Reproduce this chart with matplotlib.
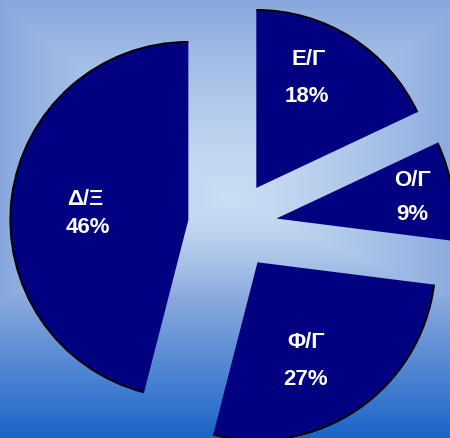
import numpy as np
import matplotlib
matplotlib.use("Agg")
import matplotlib.pyplot as plt
from matplotlib.patches import Arc
from matplotlib.colors import to_rgb

# Data
categories = ["Ε/Γ", "Ο/Γ", "Φ/Γ", "Δ/Ξ"]
shares = [18, 9, 27, 46]
pct_labels = ["18%", "9%", "27%", "46%"]

# Layout / style
explode = [0.25, 0.25, 0.25, 0.25]
wedge_color = "#000080"
# baseline positions (data units) for the name line and the percent line
name_pos = [(0.427, 0.902), (1.014, 0.222), (0.416, -0.688), (-0.829, 0.115)]
pct_pos = [(0.416, 0.694), (1.008, 0.031), (0.413, -0.896), (-0.812, -0.042)]

xlim = (-1.306, 1.222)
ylim = (-1.194, 1.267)

fig = plt.figure(figsize=(4.5, 4.38), dpi=100)
ax = fig.add_axes([0, 0, 1, 1])

# Background: light centre fading to mid blue, then a vertical ramp to vivid blue at the bottom
W, H = 450, 438
yy, xx = np.mgrid[0:H, 0:W].astype(float)
light = np.array(to_rgb("#c9ddf3"))
edge = np.array(to_rgb("#88a8dd"))
bottom = np.array(to_rgb("#1a64c8"))
u = np.abs(xx - 230) / 230.0
v = np.where(yy < 200, (200 - yy) / 200.0, (yy - 200) / 100.0)
s = np.clip(np.maximum(u, v), 0, 1) ** 1.4
img = light[None, None, :] * (1 - s[..., None]) + edge[None, None, :] * s[..., None]
t = np.clip((yy - 300) / 138.0, 0, 1)[..., None]
img = img * (1 - t) + bottom[None, None, :] * t
ax.imshow(img, extent=[xlim[0], xlim[1], ylim[0], ylim[1]], origin="upper",
          aspect="auto", zorder=0, interpolation="bilinear")

wedges, _ = ax.pie(shares, startangle=90, counterclock=False, explode=explode,
                   colors=[wedge_color] * len(shares), radius=1.0,
                   wedgeprops=dict(linewidth=0, antialiased=True))
for w in wedges:
    w.set_zorder(2)
    ax.add_patch(Arc(w.center, 2 * w.r, 2 * w.r, theta1=w.theta1, theta2=w.theta2,
                     color="black", lw=1.4, zorder=3))

font = dict(family=["Liberation Sans", "DejaVu Sans"], weight="bold",
            fontsize=16, color="white", ha="center", va="baseline", zorder=4)
for name, pct, (nx, ny), (px, py) in zip(categories, pct_labels, name_pos, pct_pos):
    ax.text(nx, ny, name, **font)
    ax.text(px, py, pct, **font)

ax.set_xlim(*xlim)
ax.set_ylim(*ylim)
ax.set_aspect("equal", adjustable="box")
ax.axis("off")
fig.savefig("out.png", dpi=100)
